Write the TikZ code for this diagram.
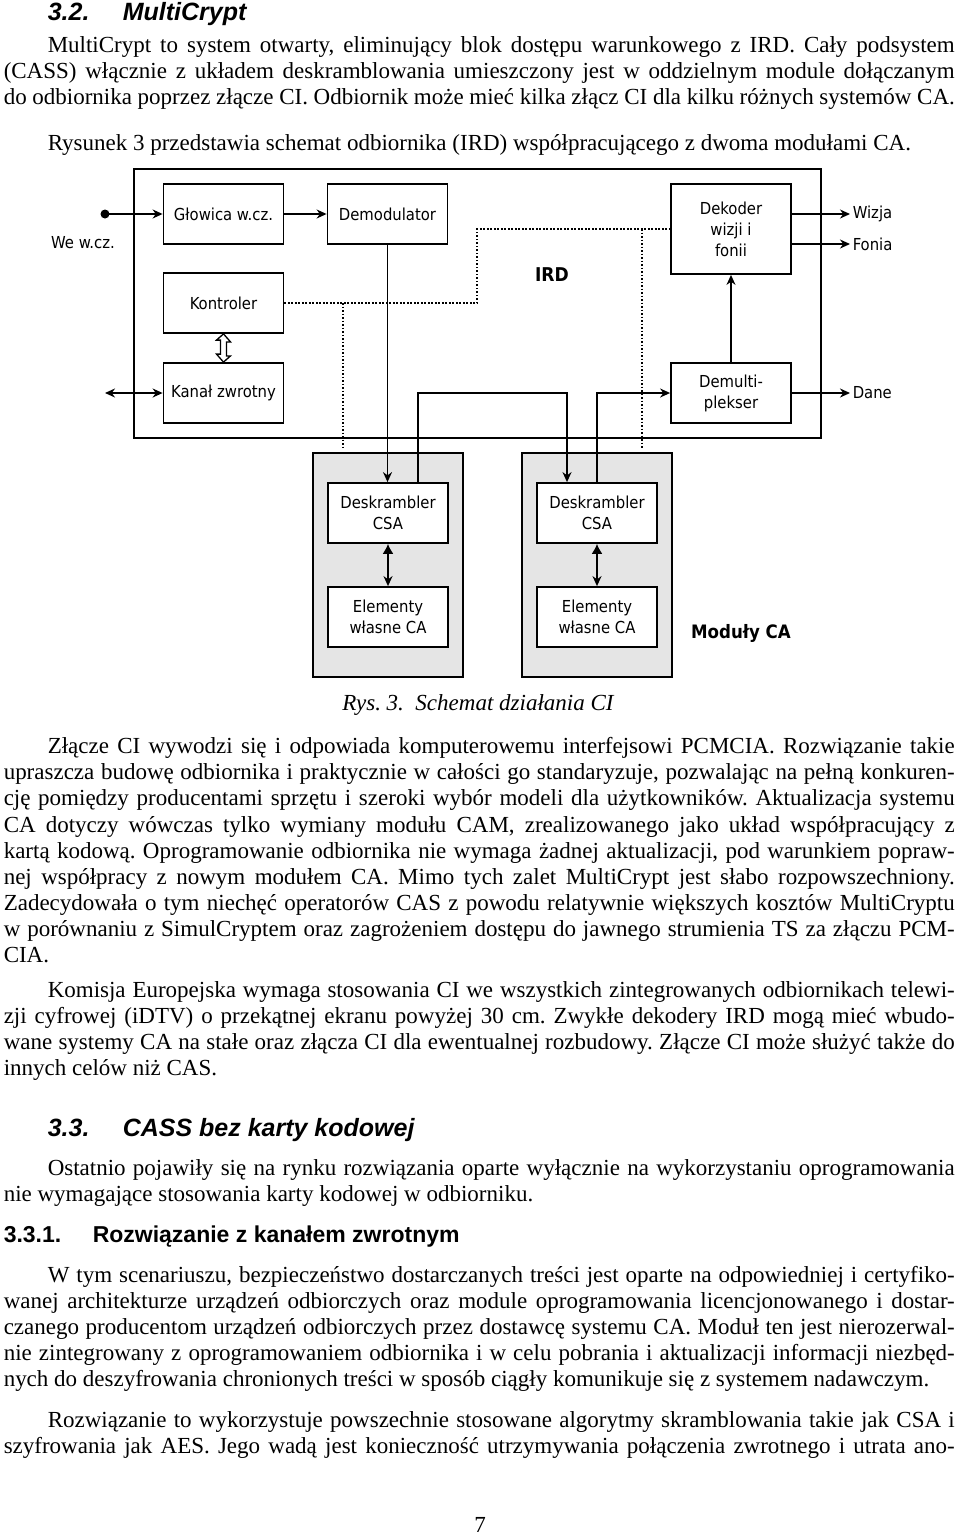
\documentclass[tikz,border=0pt]{standalone}
\usepackage{fontspec}
\setmainfont{Liberation Serif}
\newfontfamily\headfont{Liberation Sans}
\IfFontExistsTF{DejaVu Sans Condensed}
  {\newfontfamily\diafont{DejaVu Sans Condensed}\newcommand\diasize{16.5}}
  {\newfontfamily\diafont{DejaVu Sans}\newcommand\diasize{15.4}}
\usetikzlibrary{arrows,arrows.meta}

\frenchspacing
\newcommand\bodyfont{\fontsize{23}{27}\selectfont}
\newcommand\dfont{\diafont\fontsize{\diasize}{21}\selectfont}
\newcommand\fullline[3]{\node[txt] (#1) at (3,#2) {\makebox[951pt][s]{#3}};}
\newcommand\indline[3]{\node[txt] (#1) at (47,#2) {\makebox[907pt][s]{#3}};}
\newcommand\lastline[4]{\node[txt] (#1) at (#2,#3) {#4};}

\begin{document}
\begin{tikzpicture}[x=1pt,y=-1pt,>={Stealth[length=10pt,width=9pt]},line width=1.5pt,
    txt/.style={anchor=base west,inner sep=0pt,font=\bodyfont},
    head/.style={anchor=base west,inner sep=0pt,font=\headfont\bfseries\itshape\fontsize{25}{30}\selectfont},
    subhead/.style={anchor=base west,inner sep=0pt,font=\headfont\bfseries\fontsize{23}{28}\selectfont},
    block/.style={draw,line width=1.8pt,fill=white,minimum width=120pt,minimum height=60pt,
      align=center,inner sep=2pt,font=\dfont},
    module/.style={draw,line width=1.8pt,fill=black!10,minimum width=150pt,minimum height=224pt},
    lbl/.style={inner sep=2pt,font=\dfont},
    dots/.style={dash pattern=on 1.6pt off 1.9pt,line width=1.6pt}]
    \useasboundingbox (0,0) rectangle (960,1537);
    \fill[white] (0,0) rectangle (960,1537);

    \node[head] (h32n) at (47,20) {3.2.};
    \node[head] (h32) at (122,20) {MultiCrypt};
    \indline{p1a}{52}{MultiCrypt to system otwarty, eliminujący blok dostępu warunkowego z IRD. Cały podsystem}
    \fullline{p1b}{78}{(CASS) włącznie z układem deskramblowania umieszczony jest w oddzielnym module dołączanym}
    \fullline{p1c}{104}{do odbiornika poprzez złącze CI. Odbiornik może mieć kilka złącz CI dla kilku różnych systemów CA.}
    \lastline{p2a}{47}{150}{Rysunek 3 przedstawia schemat odbiornika (IRD) współpracującego z dwoma modułami CA.}

    \node[draw,line width=2.4pt,minimum width=687pt,minimum height=269pt] (ird) at (477.5,303.5) {};
    \node[font=\dfont\bfseries\fontsize{19}{20}\selectfont] (irdlbl) at (552,275) {IRD};
    \node[module] (mod1) at (388,565) {};
    \node[module] (mod2) at (597,565) {};

    \node[block] (glowica) at (223.5,214) {Głowica w.cz.};
    \node[block] (demod) at (387.5,214) {Demodulator};
    \node[block] (kontroler) at (223.5,303) {Kontroler};
    \node[block] (kanal) at (223.5,393) {Kanał zwrotny};
    \node[block,minimum height=90pt] (dekoder) at (731,229) {Dekoder\\wizji i\\fonii};
    \node[block] (demux) at (731,393) {Demulti-\\plekser};
    \node[block] (desk1) at (388,513) {Deskrambler\\CSA};
    \node[block] (elem1) at (388,617) {Elementy\\własne CA};
    \node[block] (desk2) at (597,513) {Deskrambler\\CSA};
    \node[block] (elem2) at (597,617) {Elementy\\własne CA};

    \node[circle,fill,inner sep=0pt,minimum size=9pt] (wein) at (105,214) {};
    \node[lbl] (welbl) at (83,243) {We w.cz.};
    \coordinate (zwr) at (105,393);
    \node[lbl,anchor=west] (wizja) at (850,214) {Wizja};
    \node[lbl,anchor=west] (fonia) at (850,244) {Fonia};
    \node[lbl,anchor=west] (dane) at (850,393) {Dane};
    \node[font=\dfont\bfseries\fontsize{18.5}{20}\selectfont,anchor=west] (modlbl) at (687,633) {Moduły CA};

    \coordinate (bus) at (477,303);
    \coordinate (tap1) at (343,303);
    \coordinate (tap2) at (642,229);
    \draw[dots] (kontroler.east) -- (bus) |- (dekoder.west);
    \draw[dots] (tap1) -- ([yshift=3pt]mod1.north -| tap1);
    \draw[dots] (tap2) -- ([yshift=3pt]mod2.north -| tap2);

    \draw[->] (wein.center) -- (glowica);
    \draw[->] (glowica) -- (demod);
    \draw[<->] (zwr) -- (kanal);
    \draw[->] (demod.south) -- (demod.south |- desk1.north);
    \coordinate (d1out) at ([xshift=30pt]desk1.north);
    \coordinate (d2in) at ([xshift=-30pt]desk2.north);
    \draw[->] (d1out) |- (d2in |- demux.west) -- (d2in);
    \draw[->] (desk2.north) |- (demux.west);
    \draw[->] (demux) -- (dekoder);
    \draw[->] (dekoder.east |- wizja.west) -- (wizja.west);
    \draw[->] (dekoder.east |- fonia.west) -- (fonia.west);
    \draw[->] (demux.east) -- (demux.east -| dane.west);
    \draw[{Latex[length=10pt,width=11pt]}->] (desk1.south) -- (elem1.north);
    \draw[{Latex[length=10pt,width=11pt]}->] (desk2.south) -- (elem2.north);
    \draw[line width=1.3pt,fill=white] (kontroler.south) -- ++(7,8) -- ++(-4,0) -- ++(0,14) -- ++(4,0)
      -- (kanal.north) -- ++(-7,-8) -- ++(4,0) -- ++(0,-14) -- ++(-4,0) -- cycle;

    \node[anchor=base,font=\bodyfont\itshape] (rys) at (478,710) {Rys. 3.\ \ Schemat działania CI};

    \indline{p3a}{753}{Złącze CI wywodzi się i odpowiada komputerowemu interfejsowi PCMCIA. Rozwiązanie takie}
    \fullline{p3b}{779}{upraszcza budowę odbiornika i praktycznie w całości go standaryzuje, pozwalając na pełną konkuren-}
    \fullline{p3c}{805}{cję pomiędzy producentami sprzętu i szeroki wybór modeli dla użytkowników. Aktualizacja systemu}
    \fullline{p3d}{832}{CA dotyczy wówczas tylko wymiany modułu CAM, zrealizowanego jako układ współpracujący z}
    \fullline{p3e}{858}{kartą kodową. Oprogramowanie odbiornika nie wymaga żadnej aktualizacji, pod warunkiem popraw-}
    \fullline{p3f}{884}{nej współpracy z nowym modułem CA. Mimo tych zalet MultiCrypt jest słabo rozpowszechniony.}
    \fullline{p3g}{910}{Zadecydowała o tym niechęć operatorów CAS z powodu relatywnie większych kosztów MultiCryptu}
    \fullline{p3h}{936}{w porównaniu z SimulCryptem oraz zagrożeniem dostępu do jawnego strumienia TS za złączu PCM-}
    \lastline{p3i}{3}{962}{CIA.}

    \indline{p4a}{997}{Komisja Europejska wymaga stosowania CI we wszystkich zintegrowanych odbiornikach telewi-}
    \fullline{p4b}{1023}{zji cyfrowej (iDTV) o przekątnej ekranu powyżej 30 cm. Zwykłe dekodery IRD mogą mieć wbudo-}
    \fullline{p4c}{1049}{wane systemy CA na stałe oraz złącza CI dla ewentualnej rozbudowy. Złącze CI może służyć także do}
    \lastline{p4d}{3}{1075}{innych celów niż CAS.}

    \node[head] (h33n) at (47,1136) {3.3.};
    \node[head] (h33) at (122,1136) {CASS bez karty kodowej};
    \indline{p5a}{1175}{Ostatnio pojawiły się na rynku rozwiązania oparte wyłącznie na wykorzystaniu oprogramowania}
    \lastline{p5b}{3}{1201}{nie wymagające stosowania karty kodowej w odbiorniku.}

    \node[subhead] (h331n) at (3,1242) {3.3.1.};
    \node[subhead] (h331) at (92,1242) {Rozwiązanie z kanałem zwrotnym};
    \indline{p6a}{1282}{W tym scenariuszu, bezpieczeństwo dostarczanych treści jest oparte na odpowiedniej i certyfiko-}
    \fullline{p6b}{1308}{wanej architekturze urządzeń odbiorczych oraz module oprogramowania licencjonowanego i dostar-}
    \fullline{p6c}{1334}{czanego producentom urządzeń odbiorczych przez dostawcę systemu CA. Moduł ten jest nierozerwal-}
    \fullline{p6d}{1360}{nie zintegrowany z oprogramowaniem odbiornika i w celu pobrania i aktualizacji informacji niezbęd-}
    \lastline{p6e}{3}{1386}{nych do deszyfrowania chronionych treści w sposób ciągły komunikuje się z systemem nadawczym.}

    \indline{p7a}{1427}{Rozwiązanie to wykorzystuje powszechnie stosowane algorytmy skramblowania takie jak CSA i}
    \fullline{p7b}{1453}{szyfrowania jak AES. Jego wadą jest konieczność utrzymywania połączenia zwrotnego i utrata ano-}

    \node[anchor=base,font=\bodyfont] (pnum) at (480,1532) {7};
\end{tikzpicture}
\end{document}
